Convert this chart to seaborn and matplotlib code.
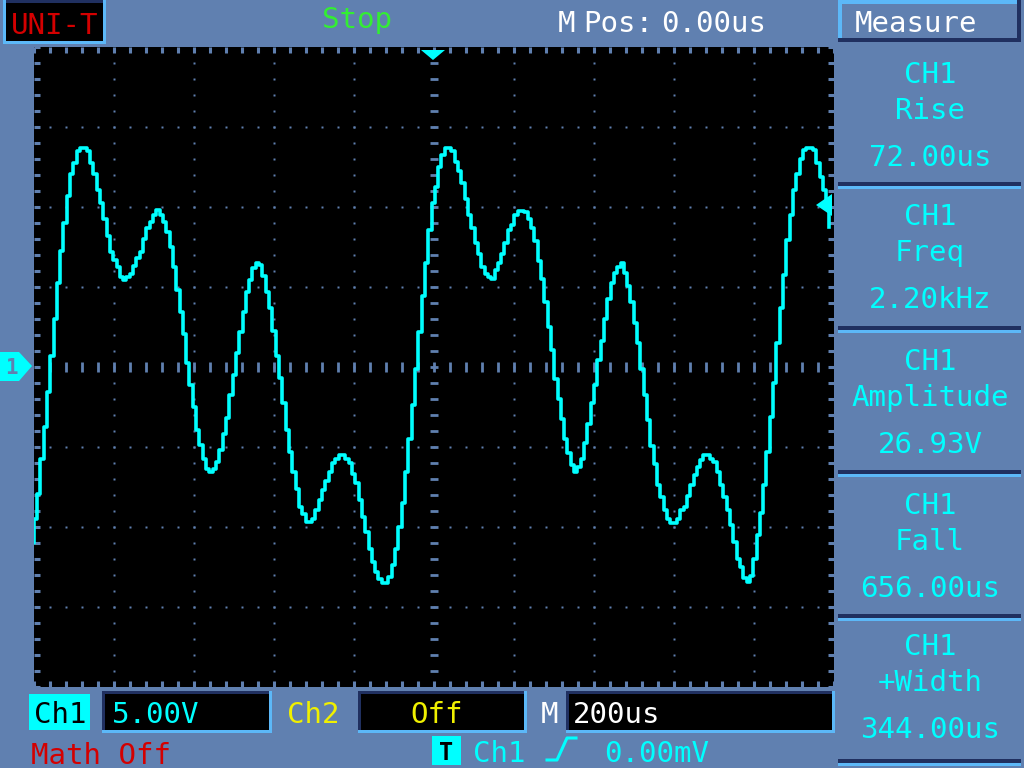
import numpy as np
import pandas as pd
import matplotlib
matplotlib.use("Agg")
import matplotlib.pyplot as plt
import seaborn as sns
from matplotlib.patches import Rectangle, Polygon
from matplotlib.lines import Line2D

# =========================
# DATA (CH1 samples)
# =========================
ch1_volts = [
    -11.06, -9.50, -7.98, -5.81, -3.77, -1.58, 0.65, 3.00, 5.19, 7.23,
    8.98, 10.65, 12.06, 12.69, 13.48, 13.63, 13.63, 13.48, 12.69, 12.02,
    11.02, 10.23, 9.25, 8.15, 7.17, 6.65, 6.19, 5.60, 5.40, 5.60,
    5.81, 6.27, 6.81, 7.17, 8.00, 8.63, 9.04, 9.46, 9.77, 9.46,
    9.04, 8.42, 7.48, 6.23, 4.81, 3.42, 2.02, 0.25, -1.17, -2.52,
    -3.98, -4.92, -5.75, -6.38, -6.58, -6.38, -5.96, -5.19, -4.19, -3.19,
    -1.79, -0.54, 0.85, 2.17, 3.42, 4.63, 5.40, 6.13, 6.44, 6.33,
    5.65, 4.63, 3.67, 2.23, 0.65, -0.69, -2.31, -3.98, -5.33, -6.58,
    -7.63, -8.77, -9.19, -9.71, -9.71, -9.50, -8.98, -8.35, -7.73, -7.15,
    -6.58, -6.06, -5.75, -5.54, -5.54, -5.75, -6.06, -6.69, -7.31, -8.35,
    -9.40, -10.33, -11.38, -12.21, -12.83, -13.25, -13.56, -13.56, -13.15, -12.42,
    -11.38, -10.02, -8.56, -6.58, -4.56, -2.42, -0.13, 2.17, 4.40, 6.44,
    8.52, 10.19, 11.23, 12.48,
    13.21, 13.63, 13.63, 13.48, 12.79, 12.23, 11.44, 10.44, 9.46, 8.63,
    7.69, 7.02, 6.23, 5.81, 5.60, 5.44, 6.06, 6.44, 7.02, 7.69,
    8.52, 8.83, 9.46, 9.73, 9.73, 9.67, 9.19, 8.63, 7.85, 6.60,
    5.44, 4.04, 2.44, 1.02, -0.75, -2.00, -3.31, -4.56, -5.40, -6.17,
    -6.58, -6.27, -5.75, -4.81, -3.60, -2.31, -1.17, 0.40, 1.60, 3.00,
    4.19, 5.19, 5.85, 6.23, 6.44, 5.85, 5.02, 4.04, 2.69, 1.44,
    -0.13, -1.79, -3.35, -4.98, -6.10, -7.42, -8.15, -8.98, -9.50, -9.77,
    -9.77, -9.50, -8.94, -8.81, -8.10, -7.42, -6.79, -6.31, -5.85, -5.54,
    -5.54, -5.75, -5.96, -6.58, -7.42, -8.15, -8.98, -9.92, -10.96, -12.00,
    -12.56, -13.19, -13.46, -13.10, -12.00, -10.54, -9.15, -7.42, -5.33, -3.15,
    -1.02, 1.44, 3.63, 5.71, 7.90, 9.46, 11.02, 12.06, 13.00, 13.52,
    13.63, 13.63, 13.52, 12.69, 11.85, 11.02, 9.88, 8.73,
]
first_sample_us = -1008.0
sample_step_us = 8.29

measure_names = ["Rise", "Freq", "Amplitude", "Fall", "+Width"]
measure_values = ["72.00us", "2.20kHz", "26.93V", "656.00us", "344.00us"]

time_us = first_sample_us + sample_step_us * np.arange(len(ch1_volts))
df = pd.DataFrame({"time": time_us, "volts": ch1_volts})

# =========================
# STYLE
# =========================
BG = "#6080b0"
NAVY = "#203060"
LBLUE = "#5cb8f8"
CYAN = "#00ffff"
RED = "#d40000"
GREEN = "#33ee33"
YELLOW = "#f0f000"

plt.rcParams["font.family"] = ["DejaVu Sans Mono"]
FS = 21

W, H = 1024, 768
fig = plt.figure(figsize=(W / 100, H / 100), dpi=100, facecolor=BG)


def fx(px):
    return px / W


def fy(py):
    return 1 - py / H


def rect(x0, y0, x1, y1, color, z=1):
    fig.patches.append(Rectangle((fx(x0), fy(y1)), fx(x1) - fx(x0), fy(y0) - fy(y1),
                                 transform=fig.transFigure, facecolor=color,
                                 edgecolor="none", zorder=z))


def box(x0, y0, x1, y1, fill, tl, br, b=3):
    rect(x0, y0, x1, y1, fill)
    rect(x0, y0, x1, y0 + b, tl, 2)
    rect(x0, y0, x0 + b, y1, tl, 2)
    rect(x0, y1 - b, x1, y1, br, 2)
    rect(x1 - b, y0, x1, y1, br, 2)


def txt(x, y, s, color, ha="left", size=FS, **kw):
    fig.text(fx(x), fy(y), s, color=color, ha=ha, va="baseline", fontsize=size, **kw)


# =========================
# SCREEN (waveform area)
# =========================
ax = fig.add_axes([fx(33.5), fy(686.5), 800 / W, 640 / H])
ax.set_facecolor("black")

# grid dots
yy = np.arange(-19, 20, 1.0)
xx = np.arange(-960, 961, 40.0)
for gx in [-800, -600, -400, -200, 200, 400, 600, 800]:
    ax.plot(np.full_like(yy, gx), yy, ls="none", marker="s", ms=1.9, mfc=BG, mec="none")
for gy in [-15, -10, -5, 5, 10, 15]:
    ax.plot(xx, np.full_like(xx, gy), ls="none", marker="s", ms=1.9, mfc=BG, mec="none")
ax.plot(np.zeros_like(yy), yy, ls="none", marker="_", ms=5.5, mew=2, color=BG)
ax.plot(xx, np.zeros_like(xx), ls="none", marker="|", ms=6.5, mew=2, color=BG)

sns.lineplot(data=df, x="time", y="volts", ax=ax, color=CYAN, lw=2.6,
             drawstyle="steps-post", estimator=None, zorder=5)

ax.set_xlim(-1000, 1000)
ax.set_ylim(-20, 20)
ax.set_xticks(np.arange(-1000, 1001, 200))
ax.set_xticks(np.arange(-1000, 1001, 40), minor=True)
ax.set_yticks(np.arange(-20, 21, 5))
ax.set_yticks(np.arange(-20, 21, 1), minor=True)
ax.tick_params(which="both", direction="in", length=4.5, width=2.2, color=BG,
               top=True, right=True, labelbottom=False, labelleft=False)
for s in ax.spines.values():
    s.set_visible(False)
ax.set_xlabel("")
ax.set_ylabel("")

# trigger position / level / channel markers
fig.patches.append(Polygon([(fx(421), fy(50)), (fx(445), fy(50)), (fx(433), fy(60))],
                           closed=True, transform=fig.transFigure, facecolor=CYAN,
                           edgecolor="none", zorder=6))
fig.patches.append(Polygon([(fx(816), fy(205)), (fx(832), fy(194)), (fx(832), fy(216))],
                           closed=True, transform=fig.transFigure, facecolor=CYAN,
                           edgecolor="none", zorder=6))
fig.patches.append(Polygon([(fx(0), fy(352)), (fx(19), fy(352)), (fx(32), fy(366)),
                            (fx(19), fy(381)), (fx(0), fy(381))],
                           closed=True, transform=fig.transFigure, facecolor=CYAN,
                           edgecolor="none", zorder=6))
txt(11, 374, "1", BG, ha="center", size=15, fontweight="bold", zorder=7)

# =========================
# TOP BAR
# =========================
box(3, 0, 106, 44, "black", NAVY, LBLUE)
rect(3, 0, 6, 44, LBLUE, 3)
txt(55, 34, "UNI-T", RED, ha="center")
txt(357, 28, "Stop", GREEN, ha="center")
txt(558, 32, "M", "white")
txt(583, 32, "Pos:", "white")
txt(661, 32, "0.00us", "white")

# =========================
# MEASURE PANEL
# =========================
box(838, 0, 1021, 42, BG, LBLUE, NAVY, b=4)
txt(916, 32, "Measure", "white", ha="center")

panel_base = [83, 225, 370, 514, 655]
for name, val, b in zip(measure_names, measure_values, panel_base):
    txt(930, b, "CH1", CYAN, ha="center")
    txt(930, b + 36, name, CYAN, ha="center")
    txt(930, b + 83, val, CYAN, ha="center")
for sep in [182, 326, 470, 614, 759]:
    rect(838, sep, 1021, sep + 4, NAVY)
    rect(838, sep + 4, 1021, sep + 7, LBLUE)

# =========================
# BOTTOM BAR
# =========================
rect(29, 694, 90, 730, CYAN)
txt(60, 723, "Ch1", "black", ha="center")
box(102, 691, 272, 733, "black", NAVY, LBLUE)
txt(112, 723, "5.00V", CYAN)
txt(287, 723, "Ch2", YELLOW)
box(358, 691, 527, 733, "black", NAVY, LBLUE)
txt(437, 723, "Off", YELLOW, ha="center")
txt(541, 723, "M", "white")
box(566, 691, 835, 733, "black", NAVY, LBLUE)
txt(573, 723, "200us", "white")

txt(31, 764, "Math Off", RED)
rect(432, 736, 461, 765, CYAN)
txt(446, 760, "T", "black", ha="center", size=17, fontweight="bold")
txt(473, 762, "Ch1", CYAN)
fig.lines.append(Line2D([fx(547), fx(557), fx(567), fx(576)],
                        [fy(760), fy(760), fy(738), fy(738)],
                        transform=fig.transFigure, color=CYAN, lw=2.2))
txt(604, 762, "0.00mV", CYAN)

fig.savefig("out.png", dpi=100, facecolor=BG)
